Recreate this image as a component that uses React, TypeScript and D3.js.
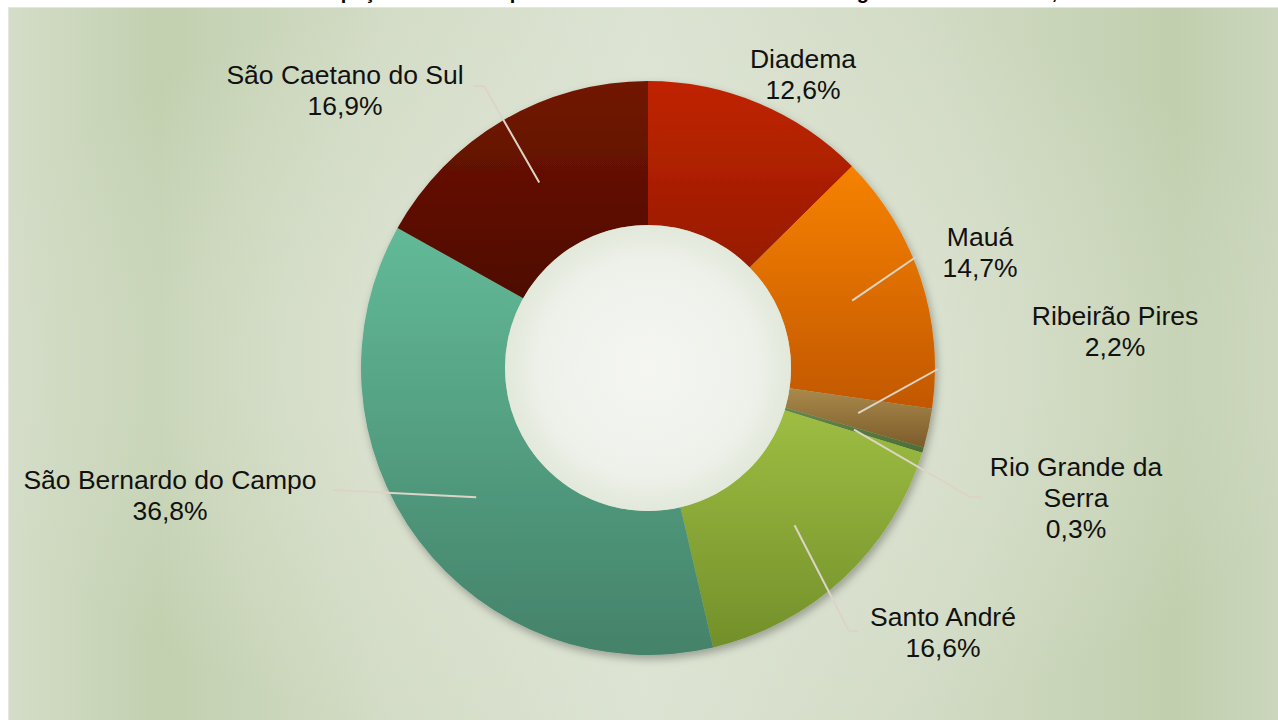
import React from "react";
import * as d3 from "d3";

const categories = [
  "Diadema",
  "Mauá",
  "Ribeirão Pires",
  "Rio Grande da Serra",
  "Santo André",
  "São Bernardo do Campo",
  "São Caetano do Sul",
];
const shares = [12.6, 14.7, 2.2, 0.3, 16.6, 36.8, 16.9];
const labelLines = [
  ["Diadema", "12,6%"],
  ["Mauá", "14,7%"],
  ["Ribeirão Pires", "2,2%"],
  ["Rio Grande da", "Serra", "0,3%"],
  ["Santo André", "16,6%"],
  ["São Bernardo do Campo", "36,8%"],
  ["São Caetano do Sul", "16,9%"],
];
const title =
  "Gráfico 1 – Participação dos municípios no Valor Adicionado total da Região do Grande ABC, 2010";

// styles / layout (separate from data)
const colorsTop = ["#c02400", "#f78200", "#aa894c", "#64884c", "#9ebd42", "#62ba98", "#721600"];
const colorsBot = ["#981b00", "#c25800", "#7c5c2a", "#4c6c36", "#72902a", "#44826a", "#4e0a00"];
const labelPos: { x: number; y: number; leader: [number, number][] | null }[] = [
  { x: 803, y: 68, leader: null },
  { x: 980, y: 246, leader: [[916, 257]] },
  { x: 1115, y: 325, leader: [[938, 369]] },
  { x: 1076, y: 476, leader: [[970, 497], [982, 497]] },
  { x: 943, y: 626, leader: [[849, 631], [859, 631]] },
  { x: 170, y: 489, leader: [[333, 490]] },
  { x: 345, y: 84, leader: [[484, 86], [473, 86]] },
];

export default function App() {
  const W = 1278;
  const H = 720;
  const cx = 648;
  const cy = 368;
  const rOuter = 287;
  const rInner = 143;

  const pie = d3
    .pie<number>()
    .sort(null)
    .value((d) => d)
    .startAngle(0)
    .endAngle(2 * Math.PI);
  const arcs = pie(shares);
  const arcGen = d3.arc<d3.PieArcDatum<number>>().innerRadius(rInner).outerRadius(rOuter);
  const centroidArc = d3
    .arc<d3.PieArcDatum<number>>()
    .innerRadius(215)
    .outerRadius(215);

  return (
    <svg
      width={W}
      height={H}
      style={{ position: "absolute", left: 0, top: 0, display: "block", overflow: "hidden" }}
      fontFamily="Liberation Sans, Arial, sans-serif"
    >
      <defs>
        <linearGradient id="bgH" x1="0" y1="0" x2="1" y2="0">
          <stop offset="0" stopColor="#d4ddc8" />
          <stop offset="0.12" stopColor="#c2d0af" />
          <stop offset="0.3" stopColor="#d3dcc6" />
          <stop offset="0.5" stopColor="#dce3d2" />
          <stop offset="0.72" stopColor="#d2dbc5" />
          <stop offset="0.92" stopColor="#c1cfae" />
          <stop offset="1" stopColor="#cbd6bc" />
        </linearGradient>
        <radialGradient id="bgR" cx="0.5" cy="0.5" r="0.55">
          <stop offset="0" stopColor="#e6ebdf" stopOpacity="0.9" />
          <stop offset="0.6" stopColor="#e0e6d7" stopOpacity="0.35" />
          <stop offset="1" stopColor="#e0e6d7" stopOpacity="0" />
        </radialGradient>
        <radialGradient id="hole" cx="0.5" cy="0.5" r="0.5">
          <stop offset="0" stopColor="#f5f6f2" />
          <stop offset="0.75" stopColor="#eef1ea" />
          <stop offset="1" stopColor="#e2e8da" />
        </radialGradient>
        <filter id="shadow" x="-20%" y="-20%" width="140%" height="140%">
          <feDropShadow dx="2" dy="4" stdDeviation="4" floodColor="#000" floodOpacity="0.3" />
        </filter>
        {arcs.map((a, i) => (
          <linearGradient key={i} id={`g${i}`} x1="0" y1="0" x2="0" y2="1">
            <stop offset="0" stopColor={colorsTop[i]} />
            <stop offset="1" stopColor={colorsBot[i]} />
          </linearGradient>
        ))}
      </defs>

      <rect x={0} y={0} width={W} height={H} fill="#ffffff" />
      <text
        x={639}
        y={-1}
        textAnchor="middle"
        fontSize={20}
        fontWeight="bold"
        fill="#000"
      >
        {title}
      </text>
      <rect x={8} y={7} width={W - 8} height={H - 7} fill="url(#bgH)" />
      <rect x={8} y={7} width={W - 8} height={H - 7} fill="url(#bgR)" />
      <line x1={8.5} y1={7} x2={8.5} y2={H} stroke="#e8e4e0" strokeWidth={1} />
      <line x1={8} y1={7.5} x2={W} y2={7.5} stroke="#e8e4e0" strokeWidth={1} />

      <g transform={`translate(${cx},${cy})`}>
        <g filter="url(#shadow)">
          {arcs.map((a, i) => (
            <path key={categories[i]} d={arcGen(a) || ""} fill={`url(#g${i})`} />
          ))}
        </g>
        <circle r={rInner} fill="url(#hole)" />
        {arcs.map((a, i) => {
          const lp = labelPos[i];
          if (!lp.leader) return null;
          const c = centroidArc.centroid(a);
          const pts: [number, number][] = [
            [c[0], c[1]],
            ...lp.leader.map((p) => [p[0] - cx, p[1] - cy] as [number, number]),
          ];
          return (
            <path
              key={"l" + i}
              d={d3.line()(pts) || ""}
              fill="none"
              stroke="#ddd4c8"
              strokeWidth={2}
            />
          );
        })}
      </g>

      {labelLines.map((lines, i) => (
        <text
          key={"t" + i}
          x={labelPos[i].x}
          y={labelPos[i].y}
          textAnchor="middle"
          fontSize={26.5}
          fill="#111"
        >
          {lines.map((ln, j) => (
            <tspan key={j} x={labelPos[i].x} dy={j === 0 ? 0 : 31}>
              {ln}
            </tspan>
          ))}
        </text>
      ))}
    </svg>
  );
}
